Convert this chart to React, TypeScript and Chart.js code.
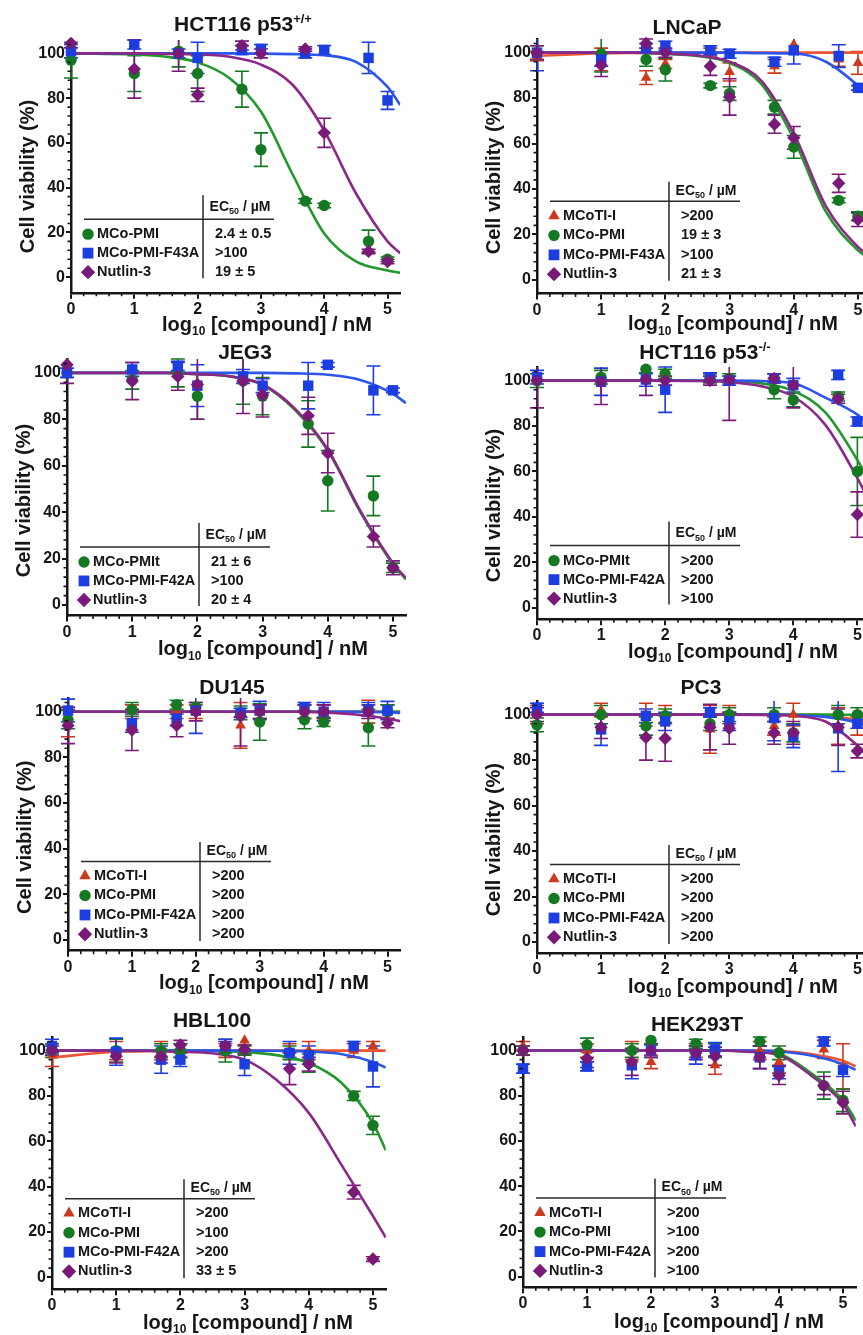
import React, { useEffect, useRef } from 'react';
import { Chart, registerables } from 'chart.js';

Chart.register(...registerables);

const FONT = '"Liberation Sans", Arial, Helvetica, sans-serif';
const INK = '#161616';

// ---------- shared axes ----------
const X_DOSE = [0, 1, 1.7, 2, 2.7, 3, 3.7, 4, 4.7, 5];
const X_FIT = [0, 1, 1.5, 2, 2.5, 3, 3.5, 4, 4.5, 5, 5.2];
const X_TICKS = [0, 1, 2, 3, 4, 5];
const Y_TICKS = [0, 20, 40, 60, 80, 100];
const X_MINOR = [0.2, 0.4, 0.6, 0.8, 1.2, 1.4, 1.6, 1.8, 2.2, 2.4, 2.6, 2.8, 3.2, 3.4, 3.6, 3.8, 4.2, 4.4, 4.6, 4.8];
const Y_MINOR = [4, 8, 12, 16, 24, 28, 32, 36, 44, 48, 52, 56, 64, 68, 72, 76, 84, 88, 92, 96, 104];
const X_MAX = 5.2;
const Y_MAX = 106;

// ---------- HCT116 p53+/+ ----------
const HCTWT_PMI = [97, 91, 101, 91, 84, 57, 34, 32, 16, 8];
const HCTWT_PMI_ERR = [8, 8, 7, 8, 8, 7.5, 1, 1, 5, 1];
const HCTWT_PMI_FIT = [100, 99.5, 98.5, 96, 89, 74, 46, 19.5, 7, 3, 2];
const HCTWT_F = [101, 104, 100, 98, 101.5, 102, 100, 101.5, 98, 79];
const HCTWT_F_ERR = [3, 2, 2, 7, 2, 2, 2, 2, 7, 4];
const HCTWT_F_FIT = [100, 100, 100, 100, 100, 99.9, 99.7, 99.2, 96.2, 85, 77];
const HCTWT_NUT = [104.5, 93, 100, 81.5, 103.5, 100, 102, 64.5, 11.5, 7];
const HCTWT_NUT_ERR = [2, 13, 8, 3, 2, 2, 1, 6.5, 1, 1];
const HCTWT_NUT_FIT = [100, 100, 99.8, 99.5, 98.5, 95, 86, 65.5, 37.5, 16, 10.7];

// ---------- LNCaP ----------
const LNCAP_TI = [98.5, 97, 89, 95, 100, 91.5, 94, 103.5, 97, 95.5];
const LNCAP_TI_ERR = [2, 5, 3, 2, 2, 4, 3, 4, 3, 5];
const LNCAP_TI_FIT = [98.5, 99.7, 99.9, 100, 100, 100, 100, 100, 100, 100, 100];
const LNCAP_PMI = [100, 99.5, 97, 92.5, 85.5, 82, 76, 58.5, 35, 28];
const LNCAP_PMI_ERR = [3, 8, 3, 5, 1, 3, 3, 5, 1, 2];
const LNCAP_PMI_FIT = [100, 100, 100, 99.5, 98.5, 95.5, 86, 62, 30, 13, 9];
const LNCAP_F = [100, 97, 102, 103, 101, 99.5, 96, 101, 98.5, 84.5];
const LNCAP_F_ERR = [8, 3, 2, 2, 2, 2, 2, 6, 5, 1];
const LNCAP_F_FIT = [100, 100, 100, 100, 100, 100, 99.8, 99.6, 96, 85.5, 80];
const LNCAP_NUT = [100, 94.5, 104, 100, 94, 80.5, 68.5, 62.5, 42.5, 26.5];
const LNCAP_NUT_ERR = [3, 5, 2, 2, 4, 8, 4, 5, 4, 3];
const LNCAP_NUT_FIT = [100, 100, 100, 99.6, 98.8, 96, 87.5, 64.5, 32.5, 14.5, 10];

// ---------- JEG3 ----------
const JEG3_PMI = [100, 97, 100, 90, 96.5, 90, 78, 53.5, 47, 16];
const JEG3_PMI_ERR = [2, 4, 6, 10, 10, 8, 10, 13, 8.5, 2];
const JEG3_PMI_FIT = [100, 100, 100, 99.5, 98.5, 94.8, 84, 66.5, 40, 17.5, 11];
const JEG3_F = [100, 101.5, 103, 94.5, 98.5, 94.5, 94.5, 103.5, 92.5, 92.5];
const JEG3_F_ERR = [2, 3, 2, 9, 3, 3, 10, 1, 10.5, 1];
const JEG3_F_FIT = [100, 100, 100, 100, 100, 100, 99.8, 99.2, 97, 91, 87];
const JEG3_NUT = [103.5, 96.5, 98.5, 95, 96.5, 90.5, 81.5, 65.5, 29.5, 16];
const JEG3_NUT_ERR = [8, 8, 6, 15, 14, 9.5, 8, 8.5, 4.5, 3];
const JEG3_NUT_FIT = [100, 100, 100, 99.5, 98.5, 95, 84.5, 67, 40.5, 18, 11.5];

// ---------- HCT116 p53-/- ----------
const HCTKO_PMI = [100, 101.5, 105, 103, 101, 101, 96, 91.5, 93, 60];
const HCTKO_PMI_ERR = [3, 3, 2, 2, 2, 2, 4, 3, 2, 15];
const HCTKO_PMI_FIT = [100, 100, 100, 100, 100, 99.8, 98.8, 95.5, 86, 65, 55];
const HCTKO_F = [101.5, 99.5, 100.5, 96, 101.5, 100, 101, 98, 102.5, 82];
const HCTKO_F_ERR = [3, 6, 3, 10, 2, 2, 2, 3, 2, 2];
const HCTKO_F_FIT = [100, 100, 100, 100, 100, 100, 99.8, 98.8, 92.5, 85, 80];
const HCTKO_NUT = [100, 99.5, 100.5, 100, 100, 100.5, 101, 98, 92, 41];
const HCTKO_NUT_ERR = [12, 10, 7, 2, 2, 18, 2, 10, 2, 10];
const HCTKO_NUT_FIT = [100, 100, 100, 100, 99.8, 99.4, 97.5, 93, 80.5, 57, 46];

// ---------- DU145 ----------
const DU145_TI = [95, 100, 100, 100, 94, 100, 100, 100, 100, 100];
const DU145_TI_ERR = [6, 3, 3, 3, 10, 3, 3, 3, 5, 3];
const DU145_TI_FIT = [100, 100, 100, 100, 100, 100, 100, 100, 100, 100, 100];
const DU145_PMI = [96.5, 101, 103, 102, 99.5, 95.5, 96.5, 95.5, 93, 100];
const DU145_PMI_ERR = [4, 3, 2, 2, 3, 8, 4, 2, 8, 3];
const DU145_PMI_FIT = [100, 100, 100, 100, 100, 100, 100, 100, 100, 100, 100];
const DU145_F = [100.5, 95, 97, 100.5, 99.5, 100.5, 102, 100, 101, 100.5];
const DU145_F_ERR = [5, 4, 3, 10, 2, 4, 2, 4, 3, 4];
const DU145_F_FIT = [100, 100, 100, 100, 100, 100, 100, 100, 99.9, 99.8, 99.5];
const DU145_NUT = [94, 92, 94, 100, 98, 100, 100, 100, 100, 95];
const DU145_NUT_ERR = [8, 9, 5, 4, 13, 3, 3, 3, 3, 2];
const DU145_NUT_FIT = [100, 100, 100, 100, 100, 100, 100, 99.7, 98.8, 97, 95.8];

// ---------- PC3 ----------
const PC3_TI = [100, 102, 100, 100, 93.5, 100, 95, 100, 95, 95];
const PC3_TI_ERR = [4, 3, 5, 4, 10.5, 4, 4, 5, 8, 4];
const PC3_TI_FIT = [100, 100, 100, 100, 100, 100, 100, 99.9, 99.6, 97.5, 96];
const PC3_PMI = [95.5, 100, 95, 99.5, 96, 100, 100, 92, 100, 100];
const PC3_PMI_ERR = [3, 4, 4, 3, 3, 3, 3, 4, 4, 3];
const PC3_PMI_FIT = [100, 100, 100, 100, 100, 100, 100, 100, 100, 99.9, 99.9];
const PC3_F = [103, 93.5, 99.5, 97, 101, 97, 98.5, 90.5, 94, 96];
const PC3_F_ERR = [2, 7, 3, 4, 2, 4, 10, 5, 19, 2];
const PC3_F_FIT = [100, 100, 100, 100, 100, 100, 100, 99.8, 99, 96.5, 94.5];
const PC3_NUT = [100, 94.5, 90, 89.5, 94.5, 94, 92, 92, 94.5, 84];
const PC3_NUT_ERR = [3, 5, 10, 10, 10, 7, 5, 5, 8, 3];
const PC3_NUT_FIT = [100, 100, 100, 100, 100, 100, 99.9, 99.5, 97, 86.5, 81];

// ---------- HBL100 ----------
const HBL_TI = [98, 100, 100, 100, 100, 104.5, 100, 100, 100, 102];
const HBL_TI_ERR = [5, 4, 4, 3, 3, 2, 3, 4, 3, 2];
const HBL_TI_FIT = [97, 99.5, 99.8, 100, 100, 100, 100, 100, 100, 100, 100];
const HBL_PMI = [100, 100, 100, 100, 100, 100, 99, 94.5, 80, 67];
const HBL_PMI_ERR = [3, 5, 3, 3, 5, 2, 3, 4, 2, 4];
const HBL_PMI_FIT = [100, 100, 100, 100, 99.9, 99.4, 98, 94.5, 86, 68, 56];
const HBL_F = [102, 99.5, 96, 96, 102, 94, 99, 98, 102, 93];
const HBL_F_ERR = [3, 6, 6, 3, 3, 5, 5, 4, 2, 9];
const HBL_F_FIT = [100, 100, 100, 100, 100, 100, 99.9, 99.6, 98.5, 95, 92.5];
const HBL_NUT = [100, 97.5, 97.5, 102.5, 102, 100.5, 92, 94, 37.5, 8];
const HBL_NUT_ERR = [2, 3, 3, 2, 2, 2, 7, 3, 3, 1];
const HBL_NUT_FIT = [100, 100, 99.8, 99.5, 98.8, 96, 87, 72.5, 50, 27, 17.5];

// ---------- HEK293T ----------
const HEK_TI = [102, 100, 100, 95, 100, 93.5, 100, 95, 100.5, 93];
const HEK_TI_ERR = [2, 3, 4, 3, 3, 4, 4, 5, 4, 10];
const HEK_TI_FIT = [100, 100, 100, 100, 100, 100, 100, 99.8, 98.5, 95.5, 93];
const HEK_PMI = [100, 102.5, 100, 104.5, 103, 100, 104, 99, 84.5, 78];
const HEK_PMI_ERR = [2, 3, 3, 2, 2, 3, 2, 3, 6, 5];
const HEK_PMI_FIT = [100, 100, 100, 100, 100, 100, 99.7, 98.5, 90, 78, 69];
const HEK_F = [92, 93, 93.5, 100, 98, 100.5, 97, 90.5, 104, 91.5];
const HEK_F_ERR = [2, 2, 6, 3, 4, 3, 5, 3, 2, 3];
const HEK_F_FIT = [100, 100, 100, 100, 100, 100, 100, 99.6, 97.8, 94, 91.5];
const HEK_NUT = [100, 96.5, 95, 100, 99, 97.5, 97, 89, 84.5, 77];
const HEK_NUT_ERR = [2, 4, 6, 3, 3, 4, 5, 4, 4, 5];
const HEK_NUT_FIT = [100, 100, 100, 100, 100, 100, 99.5, 98, 89, 76.5, 66.5];

// ---------- styling ----------
type Key = 'ti' | 'pmi' | 'f' | 'nut';
const STYLE: Record<Key, { shape: string; r: number; color: string; line: string }> = {
  ti: { shape: 'triangle', r: 6.2, color: '#cc3a1e', line: '#ec5533' },
  pmi: { shape: 'circle', r: 5.7, color: '#157822', line: '#23982c' },
  f: { shape: 'rect', r: 7.4, color: '#1c3ddf', line: '#2c56ea' },
  nut: { shape: 'rectRot', r: 6.7, color: '#7a1a78', line: '#8b2888' },
};
const DRAW_ORDER: Key[] = ['nut', 'f', 'pmi', 'ti']; // first = on top

interface Series { key: Key; y: number[]; err: number[]; fit: number[] }
interface Row { key: Key; name: string; ec50: string }
interface Seg { t: string; m?: 'sub' | 'sup' }
interface Box { left: number; top: number; right: number; bottom: number }
interface PanelCfg {
  id: string;
  title: Seg[];
  titleX: number;
  titleY: number;
  box: Box;
  yMin: number;
  yTitle: boolean;
  xTitleY: number;
  series: Series[];
  rows: Row[];
  legendDy: number;
}

const LEG3 = { header: -70, hline: -58, rows: [-43, -24, -5], vTop: -82 };
const LEG4 = { header: -89, hline: -78.5, rows: [-64, -44.5, -25, -5.7], vTop: -98 };

const PANELS: PanelCfg[] = [
  {
    id: 'hctwt',
    title: [{ t: 'HCT116 p53' }, { t: '+/+', m: 'sup' }],
    titleX: 172, titleY: -28,
    box: { left: 71, top: 39.9, right: 400.2, bottom: 292.7 }, yMin: -7, yTitle: true, xTitleY: 48,
    series: [
      { key: 'pmi', y: HCTWT_PMI, err: HCTWT_PMI_ERR, fit: HCTWT_PMI_FIT },
      { key: 'f', y: HCTWT_F, err: HCTWT_F_ERR, fit: HCTWT_F_FIT },
      { key: 'nut', y: HCTWT_NUT, err: HCTWT_NUT_ERR, fit: HCTWT_NUT_FIT },
    ],
    rows: [
      { key: 'pmi', name: 'MCo-PMI', ec50: '2.4 ± 0.5' },
      { key: 'f', name: 'MCo-PMI-F43A', ec50: '>100' },
      { key: 'nut', name: 'Nutlin-3', ec50: '19 ± 5' },
    ],
    legendDy: 0,
  },
  {
    id: 'lncap',
    title: [{ t: 'LNCaP' }],
    titleX: 150, titleY: -24.5,
    box: { left: 536.7, top: 39.1, right: 870.5, bottom: 293.6 }, yMin: -6, yTitle: true, xTitleY: 45,
    series: [
      { key: 'ti', y: LNCAP_TI, err: LNCAP_TI_ERR, fit: LNCAP_TI_FIT },
      { key: 'pmi', y: LNCAP_PMI, err: LNCAP_PMI_ERR, fit: LNCAP_PMI_FIT },
      { key: 'f', y: LNCAP_F, err: LNCAP_F_ERR, fit: LNCAP_F_FIT },
      { key: 'nut', y: LNCAP_NUT, err: LNCAP_NUT_ERR, fit: LNCAP_NUT_FIT },
    ],
    rows: [
      { key: 'ti', name: 'MCoTI-I', ec50: '>200' },
      { key: 'pmi', name: 'MCo-PMI', ec50: '19 ± 3' },
      { key: 'f', name: 'MCo-PMI-F43A', ec50: '>100' },
      { key: 'nut', name: 'Nutlin-3', ec50: '21 ± 3' },
    ],
    legendDy: 0,
  },
  {
    id: 'jeg3',
    title: [{ t: 'JEG3' }],
    titleX: 178, titleY: -20,
    box: { left: 66.7, top: 359.4, right: 405.7, bottom: 616 }, yMin: -4.6, yTitle: true, xTitleY: 45,
    series: [
      { key: 'pmi', y: JEG3_PMI, err: JEG3_PMI_ERR, fit: JEG3_PMI_FIT },
      { key: 'f', y: JEG3_F, err: JEG3_F_ERR, fit: JEG3_F_FIT },
      { key: 'nut', y: JEG3_NUT, err: JEG3_NUT_ERR, fit: JEG3_NUT_FIT },
    ],
    rows: [
      { key: 'pmi', name: 'MCo-PMIt', ec50: '21 ± 6' },
      { key: 'f', name: 'MCo-PMI-F42A', ec50: '>100' },
      { key: 'nut', name: 'Nutlin-3', ec50: '20 ± 4' },
    ],
    legendDy: 0,
  },
  {
    id: 'hctko',
    title: [{ t: 'HCT116 p53' }, { t: '-/-', m: 'sup' }],
    titleX: 168, titleY: -27.5,
    box: { left: 537.3, top: 367.1, right: 870.5, bottom: 619.3 }, yMin: -5.1, yTitle: true, xTitleY: 45,
    series: [
      { key: 'pmi', y: HCTKO_PMI, err: HCTKO_PMI_ERR, fit: HCTKO_PMI_FIT },
      { key: 'f', y: HCTKO_F, err: HCTKO_F_ERR, fit: HCTKO_F_FIT },
      { key: 'nut', y: HCTKO_NUT, err: HCTKO_NUT_ERR, fit: HCTKO_NUT_FIT },
    ],
    rows: [
      { key: 'pmi', name: 'MCo-PMIt', ec50: '>200' },
      { key: 'f', name: 'MCo-PMI-F42A', ec50: '>200' },
      { key: 'nut', name: 'Nutlin-3', ec50: '>100' },
    ],
    legendDy: -4,
  },
  {
    id: 'du145',
    title: [{ t: 'DU145' }],
    titleX: 164, titleY: -23.5,
    box: { left: 68.3, top: 698, right: 400.6, bottom: 950.7 }, yMin: -4.7, yTitle: true, xTitleY: 44,
    series: [
      { key: 'ti', y: DU145_TI, err: DU145_TI_ERR, fit: DU145_TI_FIT },
      { key: 'pmi', y: DU145_PMI, err: DU145_PMI_ERR, fit: DU145_PMI_FIT },
      { key: 'f', y: DU145_F, err: DU145_F_ERR, fit: DU145_F_FIT },
      { key: 'nut', y: DU145_NUT, err: DU145_NUT_ERR, fit: DU145_NUT_FIT },
    ],
    rows: [
      { key: 'ti', name: 'MCoTI-I', ec50: '>200' },
      { key: 'pmi', name: 'MCo-PMI', ec50: '>200' },
      { key: 'f', name: 'MCo-PMI-F42A', ec50: '>200' },
      { key: 'nut', name: 'Nutlin-3', ec50: '>200' },
    ],
    legendDy: 0,
  },
  {
    id: 'pc3',
    title: [{ t: 'PC3' }],
    titleX: 164, titleY: -26,
    box: { left: 537.3, top: 700.7, right: 870.5, bottom: 952.6 }, yMin: -4.8, yTitle: true, xTitleY: 45,
    series: [
      { key: 'ti', y: PC3_TI, err: PC3_TI_ERR, fit: PC3_TI_FIT },
      { key: 'pmi', y: PC3_PMI, err: PC3_PMI_ERR, fit: PC3_PMI_FIT },
      { key: 'f', y: PC3_F, err: PC3_F_ERR, fit: PC3_F_FIT },
      { key: 'nut', y: PC3_NUT, err: PC3_NUT_ERR, fit: PC3_NUT_FIT },
    ],
    rows: [
      { key: 'ti', name: 'MCoTI-I', ec50: '>200' },
      { key: 'pmi', name: 'MCo-PMI', ec50: '>200' },
      { key: 'f', name: 'MCo-PMI-F42A', ec50: '>200' },
      { key: 'nut', name: 'Nutlin-3', ec50: '>200' },
    ],
    legendDy: 1,
  },
  {
    id: 'hbl100',
    title: [{ t: 'HBL100' }],
    titleX: 160, titleY: -29,
    box: { left: 52.3, top: 1037.1, right: 386.1, bottom: 1289.3 }, yMin: -5.3, yTitle: false, xTitleY: 46,
    series: [
      { key: 'ti', y: HBL_TI, err: HBL_TI_ERR, fit: HBL_TI_FIT },
      { key: 'pmi', y: HBL_PMI, err: HBL_PMI_ERR, fit: HBL_PMI_FIT },
      { key: 'f', y: HBL_F, err: HBL_F_ERR, fit: HBL_F_FIT },
      { key: 'nut', y: HBL_NUT, err: HBL_NUT_ERR, fit: HBL_NUT_FIT },
    ],
    rows: [
      { key: 'ti', name: 'MCoTI-I', ec50: '>200' },
      { key: 'pmi', name: 'MCo-PMI', ec50: '>100' },
      { key: 'f', name: 'MCo-PMI-F42A', ec50: '>200' },
      { key: 'nut', name: 'Nutlin-3', ec50: '33 ± 5' },
    ],
    legendDy: 0,
  },
  {
    id: 'hek',
    title: [{ t: 'HEK293T' }],
    titleX: 174, titleY: -25.5,
    box: { left: 523.3, top: 1037.1, right: 856.1, bottom: 1287.3 }, yMin: -4.7, yTitle: false, xTitleY: 46,
    series: [
      { key: 'ti', y: HEK_TI, err: HEK_TI_ERR, fit: HEK_TI_FIT },
      { key: 'pmi', y: HEK_PMI, err: HEK_PMI_ERR, fit: HEK_PMI_FIT },
      { key: 'f', y: HEK_F, err: HEK_F_ERR, fit: HEK_F_FIT },
      { key: 'nut', y: HEK_NUT, err: HEK_NUT_ERR, fit: HEK_NUT_FIT },
    ],
    rows: [
      { key: 'ti', name: 'MCoTI-I', ec50: '>200' },
      { key: 'pmi', name: 'MCo-PMI', ec50: '>100' },
      { key: 'f', name: 'MCo-PMI-F42A', ec50: '>200' },
      { key: 'nut', name: 'Nutlin-3', ec50: '>100' },
    ],
    legendDy: 0,
  },
];

const PAD_L = 78;
const PAD_T = 50;
const PAD_R = 12;
const PAD_B = 60;

function drawRich(ctx: CanvasRenderingContext2D, segs: Seg[], x: number, y: number, size: number, align: 'center' | 'left', weight = 'bold') {
  const big = `${weight} ${size}px ${FONT}`;
  const small = `${weight} ${Math.round(size * 0.62)}px ${FONT}`;
  let total = 0;
  const widths = segs.map((s) => {
    ctx.font = s.m ? small : big;
    const w = ctx.measureText(s.t).width;
    total += w;
    return w;
  });
  let cx = align === 'center' ? x - total / 2 : x;
  ctx.textAlign = 'left';
  ctx.textBaseline = 'middle';
  segs.forEach((s, i) => {
    ctx.font = s.m ? small : big;
    const dy = s.m === 'sub' ? size * 0.32 : s.m === 'sup' ? -size * 0.28 : 0;
    ctx.fillText(s.t, cx, y + dy);
    cx += widths[i];
  });
}

function drawMarker(ctx: CanvasRenderingContext2D, key: Key, x: number, y: number) {
  const st = STYLE[key];
  ctx.fillStyle = st.color;
  ctx.beginPath();
  if (key === 'pmi') {
    ctx.arc(x, y, 5.7, 0, Math.PI * 2);
  } else if (key === 'f') {
    ctx.rect(x - 5.4, y - 5.4, 10.8, 10.8);
  } else if (key === 'nut') {
    ctx.moveTo(x - 7.2, y);
    ctx.lineTo(x, y - 7.2);
    ctx.lineTo(x + 7.2, y);
    ctx.lineTo(x, y + 7.2);
    ctx.closePath();
  } else {
    const r = 6.6;
    ctx.moveTo(x, y - r);
    ctx.lineTo(x + r * 0.866, y + r * 0.5);
    ctx.lineTo(x - r * 0.866, y + r * 0.5);
    ctx.closePath();
  }
  ctx.fill();
}

function makePlugin(cfg: PanelCfg) {
  return {
    id: 'decor_' + cfg.id,
    beforeDatasetsDraw(chart: any) {
      const ctx: CanvasRenderingContext2D = chart.ctx;
      const xs = chart.scales.x;
      const ys = chart.scales.y;
      const area = chart.chartArea;
      const order = [...DRAW_ORDER].reverse();
      ctx.save();
      ctx.lineWidth = 1.6;
      for (const k of order) {
        const s = cfg.series.find((q) => q.key === k);
        if (!s) continue;
        ctx.strokeStyle = STYLE[k].color;
        X_DOSE.forEach((xv, i) => {
          const e = s.err[i];
          if (!e) return;
          const px = xs.getPixelForValue(xv);
          const clipped = s.y[i] + e > Y_MAX;
          const pt = clipped ? area.top : ys.getPixelForValue(s.y[i] + e);
          const pb = ys.getPixelForValue(s.y[i] - e);
          ctx.beginPath();
          ctx.moveTo(px, pt);
          ctx.lineTo(px, pb);
          if (!clipped) {
            ctx.moveTo(px - 7, pt);
            ctx.lineTo(px + 7, pt);
          }
          ctx.moveTo(px - 7, pb);
          ctx.lineTo(px + 7, pb);
          ctx.stroke();
        });
      }
      ctx.restore();
    },
    afterDraw(chart: any) {
      const ctx: CanvasRenderingContext2D = chart.ctx;
      const xs = chart.scales.x;
      const ys = chart.scales.y;
      const area = chart.chartArea;
      const x0 = xs.getPixelForValue(0);
      const y0 = ys.getPixelForValue(0);
      const y100 = ys.getPixelForValue(100);
      ctx.save();
      // minor ticks
      ctx.strokeStyle = INK;
      ctx.lineWidth = 1.6;
      ctx.beginPath();
      X_MINOR.forEach((v) => {
        const p = xs.getPixelForValue(v);
        ctx.moveTo(p, area.bottom);
        ctx.lineTo(p, area.bottom + 3.5);
      });
      Y_MINOR.forEach((v) => {
        const p = ys.getPixelForValue(v);
        ctx.moveTo(area.left, p);
        ctx.lineTo(area.left - 3.5, p);
      });
      ctx.stroke();

      ctx.fillStyle = INK;
      // panel title
      drawRich(ctx, cfg.title, x0 + cfg.titleX, y100 + cfg.titleY, 21, 'center');
      // x-axis title
      drawRich(ctx, [{ t: 'log' }, { t: '10', m: 'sub' }, { t: ' [compound] / nM' }], x0 + 196, y0 + cfg.xTitleY, 20, 'center');
      // y-axis title
      if (cfg.yTitle) {
        ctx.save();
        ctx.translate(x0 - 43, ys.getPixelForValue(45));
        ctx.rotate(-Math.PI / 2);
        ctx.font = `bold 20px ${FONT}`;
        ctx.textAlign = 'center';
        ctx.textBaseline = 'middle';
        ctx.fillText('Cell viability (%)', 0, 0);
        ctx.restore();
      }

      // EC50 table legend
      const L = cfg.rows.length === 4 ? LEG4 : LEG3;
      const by = y0 + cfg.legendDy;
      ctx.strokeStyle = '#2a2a2a';
      ctx.lineWidth = 1.5;
      ctx.beginPath();
      ctx.moveTo(x0 + 13, by + L.hline);
      ctx.lineTo(x0 + 203, by + L.hline);
      ctx.moveTo(x0 + 132, by + L.vTop);
      ctx.lineTo(x0 + 132, by + 1);
      ctx.stroke();
      ctx.fillStyle = INK;
      drawRich(ctx, [{ t: 'EC' }, { t: '50', m: 'sub' }, { t: ' / µM' }], x0 + 169, by + L.header, 14, 'center');
      cfg.rows.forEach((row, i) => {
        const ry = by + L.rows[i];
        drawMarker(ctx, row.key, x0 + 17, ry);
        ctx.fillStyle = INK;
        ctx.font = `bold 14.5px ${FONT}`;
        ctx.textAlign = 'left';
        ctx.textBaseline = 'middle';
        ctx.fillText(row.name, x0 + 26, ry);
        ctx.fillText(row.ec50, x0 + 144, ry);
      });
      ctx.restore();
    },
  };
}

function Panel({ cfg }: { cfg: PanelCfg }) {
  const ref = useRef<HTMLCanvasElement>(null);
  const { box } = cfg;
  const cw = box.right - box.left;
  const ch = box.bottom - box.top;
  const W = Math.ceil(cw + PAD_L + PAD_R);
  const H = Math.ceil(ch + PAD_T + PAD_B);
  const padR = W - PAD_L - cw;
  const xH = H - PAD_T - ch;

  useEffect(() => {
    if (!ref.current) return;
    const datasets: any[] = [];
    for (const k of DRAW_ORDER) {
      const s = cfg.series.find((q) => q.key === k);
      if (!s) continue;
      const st = STYLE[k];
      datasets.push({
        label: k + ' points',
        data: X_DOSE.map((x, i) => ({ x, y: s.y[i] })),
        showLine: false,
        pointStyle: st.shape,
        pointRadius: st.r,
        pointHoverRadius: st.r,
        backgroundColor: st.color,
        borderColor: st.color,
        borderWidth: 0,
        clip: false,
      });
    }
    for (const k of DRAW_ORDER) {
      const s = cfg.series.find((q) => q.key === k);
      if (!s) continue;
      const st = STYLE[k];
      datasets.push({
        label: k + ' fit',
        data: X_FIT.map((x, i) => ({ x, y: s.fit[i] })),
        showLine: true,
        pointRadius: 0,
        pointHoverRadius: 0,
        borderColor: st.line,
        backgroundColor: st.line,
        borderWidth: 2.6,
        cubicInterpolationMode: 'monotone',
        fill: false,
      });
    }
    const tickFont = { family: FONT, size: 16, weight: 'bold' as const };
    const chart = new Chart(ref.current, {
      type: 'scatter',
      data: { datasets },
      options: {
        animation: false,
        responsive: false,
        events: [],
        layout: { padding: { left: 0, top: PAD_T, right: padR, bottom: 0 } },
        plugins: { legend: { display: false }, tooltip: { enabled: false }, title: { display: false } },
        scales: {
          x: {
            type: 'linear',
            min: 0,
            max: X_MAX,
            afterBuildTicks: (s: any) => { s.ticks = X_TICKS.map((v) => ({ value: v })); },
            afterFit: (s: any) => { s.height = xH; },
            grid: { drawOnChartArea: false, drawTicks: true, tickLength: 6, tickWidth: 2, tickColor: INK, color: INK, lineWidth: 2 },
            border: { display: true, color: INK, width: 2.5 },
            ticks: { font: tickFont, color: INK, padding: 1, maxRotation: 0, minRotation: 0, autoSkip: false },
          },
          y: {
            type: 'linear',
            min: cfg.yMin,
            max: Y_MAX,
            afterBuildTicks: (s: any) => { s.ticks = Y_TICKS.map((v) => ({ value: v })); },
            afterFit: (s: any) => { s.width = PAD_L; },
            grid: { drawOnChartArea: false, drawTicks: true, tickLength: 5, tickWidth: 2, tickColor: INK, color: INK, lineWidth: 2 },
            border: { display: true, color: INK, width: 2.5 },
            ticks: { font: tickFont, color: INK, padding: 1, autoSkip: false },
          },
        },
      } as any,
      plugins: [makePlugin(cfg)],
    });
    return () => chart.destroy();
  }, []);

  return (
    <canvas
      ref={ref}
      width={W}
      height={H}
      style={{ position: 'absolute', left: box.left - PAD_L, top: box.top - PAD_T, width: W, height: H }}
    />
  );
}

export default function App() {
  return (
    <div style={{ position: 'absolute', left: 0, top: 0, width: 863, height: 1335, overflow: 'hidden', background: '#ffffff' }}>
      {PANELS.map((p) => (
        <Panel key={p.id} cfg={p} />
      ))}
    </div>
  );
}
